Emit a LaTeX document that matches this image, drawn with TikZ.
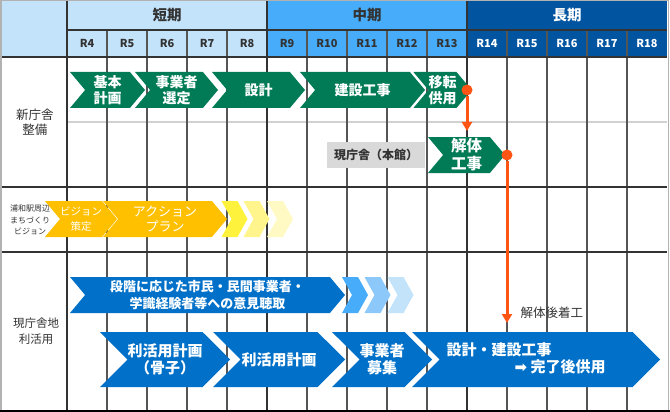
\documentclass[tikz,border=0pt]{standalone}
\usepackage{fontspec}
\setmainfont{Noto Sans CJK JP}
\newfontfamily\symfont{DejaVu Sans}
\usetikzlibrary{positioning,shapes.symbols,arrows.meta}
\definecolor{hdlight}{RGB}{195,227,250}
\definecolor{hdmid}{RGB}{71,172,250}
\definecolor{hddark}{RGB}{0,84,160}
\definecolor{grn}{RGB}{0,123,85}
\definecolor{blu}{RGB}{0,112,200}
\definecolor{blua}{RGB}{71,172,250}
\definecolor{blub}{RGB}{140,200,250}
\definecolor{bluc}{RGB}{195,227,250}
\definecolor{ylw}{RGB}{255,192,0}
\definecolor{ylwa}{RGB}{255,242,60}
\definecolor{ylwb}{RGB}{255,245,140}
\definecolor{ylwc}{RGB}{255,250,195}
\definecolor{org}{RGB}{255,85,20}
\definecolor{txt}{RGB}{51,51,51}
\definecolor{gridc}{RGB}{85,85,85}

\begin{document}
\begin{tikzpicture}[x=1pt, y=-1pt,
  chev/.style={signal, signal to=east, signal from=west, signal pointer angle=100,
    inner sep=0pt, text=white, align=center, minimum height=36pt},
  gch/.style={chev, fill=grn, font=\bfseries\fontsize{14}{15.5}\selectfont},
  ych/.style={chev, fill=ylw, font=\fontsize{10.5}{15}\selectfont},
  bch/.style={chev, fill=blu, font=\bfseries\fontsize{13}{17}\selectfont},
  bbig/.style={chev, fill=blu, minimum height=55pt, signal pointer angle=90,
    font=\bfseries\fontsize{15}{17}\selectfont},
  tail/.style={chev, signal pointer angle=122, minimum width=26pt},
  hd/.style={font=\bfseries\fontsize{14.5}{16}\selectfont, text=txt},
  yr/.style={font=\bfseries\fontsize{11}{13}\selectfont, text=txt},
  side/.style={text=txt, align=center},
  dot/.style={circle, fill=org, inner sep=0pt, minimum size=11pt},
  link/.style={org, line width=3pt, -{Triangle[width=10pt,length=9pt]}}]
\useasboundingbox (0,0) rectangle (670,412);
\fill[hdlight] (0,0) rectangle (267,57);
\fill[hdmid] (267,0) rectangle (467,57);
\fill[hddark] (467,0) rectangle (667,57);
\draw[black!18, line width=2pt] (67,122) -- (667,122);
\foreach \x in {107,147,187,227,307,347,387,427,507,547,587,627}
  \draw[gridc, line width=1.3pt] (\x,30) -- (\x,410);
\draw[txt, line width=1.3pt] (67,0) -- (67,410);
\draw[txt, line width=2.5pt] (267,0) -- (267,410) (467,0) -- (467,410);
\draw[txt, line width=1.3pt] (67,30) -- (667,30);
\draw[txt, line width=1.5pt] (0,57) -- (667,57) (0,187) -- (667,187) (0,252) -- (667,252);
\draw[gray!60, line width=1.5pt] (0.75,0.5) -- (0.75,410) (0,0.5) -- (668,0.5) (668.5,0) -- (668.5,412);
\draw[black, line width=2pt] (0,410.5) -- (670,410.5);

\node[hd] (tanki) at (167,15) {短期};
\node[hd] (chuki) at (367,15) {中期};
\node[hd, text=white] (choki) at (567,15) {長期};
\foreach \n in {4,...,13}
  \node[yr] (r\n) at ({87+(\n-4)*40},43.5) {R\n};
\foreach \n in {14,...,18}
  \node[yr, text=white] (r\n) at ({87+(\n-4)*40},43.5) {R\n};

\node[side, font=\fontsize{12.5}{15}\selectfont] (shin) at (35,122) {新庁舎\\整備};
\node[side, font=\fontsize{8}{11.5}\selectfont] (urawa) at (30,220) {浦和駅周辺\\まちづくり\\ビジョン};
\node[side, font=\fontsize{11.5}{16}\selectfont] (genchi) at (36,331) {現庁舎地\\利活用};

\node[gch, minimum width=75pt] (kihon) at (107.5,90) {基本\\計画};
\node[gch, minimum width=83pt] (sentei) at (176.5,90) {事業者\\選定};
\node[gch, minimum width=93pt] (sekkei) at (258.5,90) {設計};
\node[gch, minimum width=125pt] (kenchiku) at (362.5,90) {建設工事};
\node[gch, minimum width=49pt] (iten) at (442.5,90) {移転\\供用};
\node[fill=black!15, minimum width=98pt, minimum height=26pt, inner sep=0pt,
  text=txt, font=\bfseries\fontsize{12}{14}\selectfont] (honkan) at (376,155) {現庁舎（本館）};
\node[gch, minimum width=77pt, font=\bfseries\fontsize{15.5}{18}\selectfont] (kaitai) at (466.5,155) {解体\\工事};

\node[ych, minimum width=58pt] (vision) at (81,219) {ビジョン\\策定};
\node[ych, minimum width=124pt, font=\fontsize{13}{15}\selectfont] (action) at (165,219) {アクション\\プラン};
\node[tail, fill=ylwa] (ya) at (234.5,219) {};
\node[tail, fill=ylwb] (yb) at (256.5,219) {};
\node[tail, fill=ylwc] (yc) at (280,219) {};

\node[bch, minimum width=275pt] (iken) at (207.5,295) {段階に応じた市民・民間事業者・\\学識経験者等への意見聴取};
\node[tail, fill=blua] (ba) at (355,295) {};
\node[tail, fill=blub] (bb) at (377.5,295) {};
\node[tail, fill=bluc] (bc) at (400.5,295) {};

\node[bbig, minimum width=124pt] (kosshi) at (165,359.5) {利活用計画\\（骨子）};
\node[bbig, minimum width=132pt] (keikaku) at (279,359.5) {利活用計画};
\node[bbig, minimum width=90pt] (boshu) at (382,359.5) {事業者\\募集};
\node[bbig, minimum width=248pt] (kouji) at (536,359.5) {};
\node[anchor=west, text=white, font=\bfseries\fontsize{15}{17}\selectfont] (kouji1) at (443,350) {設計・建設工事};
\node[anchor=west, text=white, font=\bfseries\fontsize{15}{17}\selectfont] (kouji2) at (511,367) {{\symfont ➡} 完了後供用};

\node[dot] (d1) at (467,90) {};
\coordinate (a1) at (467,131);
\draw[link] (d1) -- (a1);
\node[dot] (d2) at (507,155) {};
\coordinate (a2) at (507,323);
\draw[link] (d2) -- (a2);
\node[anchor=west, text=txt, font=\fontsize{12.5}{14}\selectfont] (chakko) at (517,313) {解体後着工};
\end{tikzpicture}
\end{document}
